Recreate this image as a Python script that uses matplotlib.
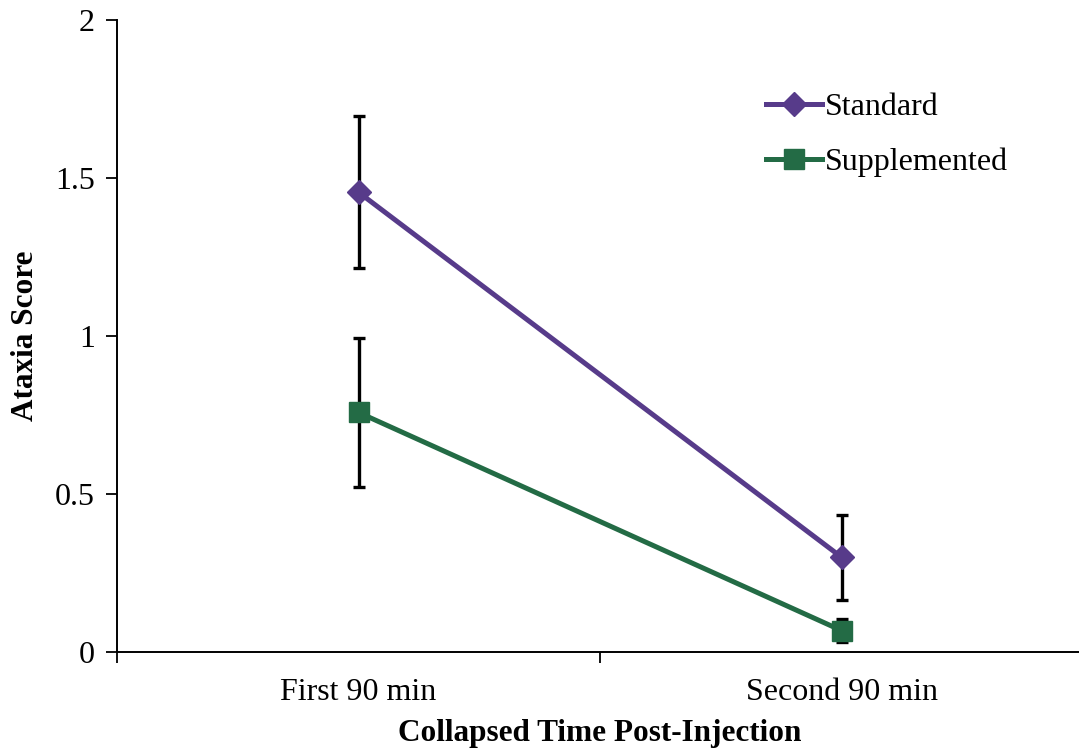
import matplotlib
matplotlib.use("Agg")
import matplotlib.pyplot as plt
import numpy as np

categories = ["First 90 min", "Second 90 min"]
standard = [1.455, 0.30]
standard_err = [0.24, 0.135]
supplemented = [0.758, 0.068]
supplemented_err = [0.235, 0.036]

plt.rcParams['font.family'] = ['Liberation Serif', 'DejaVu Serif']

W, H = 1079, 754
fig = plt.figure(figsize=(W/100, H/100), dpi=100)
ax = fig.add_axes([117/W, 102/H, 966/W, 632/H])

x = np.arange(len(categories))
purple = '#573b8a'
green = '#236b45'

ax.errorbar(x, standard, yerr=standard_err, fmt='none', ecolor='black',
            elinewidth=2.4, capsize=4.5, capthick=2.4, zorder=2)
ax.errorbar(x, supplemented, yerr=supplemented_err, fmt='none', ecolor='black',
            elinewidth=2.4, capsize=4.5, capthick=2.4, zorder=2)
ax.plot(x, standard, color=purple, lw=3.6, marker='D', markersize=12,
        label='Standard', zorder=3)
ax.plot(x, supplemented, color=green, lw=3.6, marker='s', markersize=14,
        label='Supplemented', zorder=3)

ax.set_xlim(-0.5, 1.5)
ax.set_ylim(0, 2)
ax.set_yticks([0, 0.5, 1, 1.5, 2])
ax.set_yticklabels(['0', '0.5', '1', '1.5', '2'])
ax.set_xticks(x)
ax.set_xticklabels(categories)
ax.set_xticks([-0.5, 0.5, 1.5], minor=True)
ax.tick_params(axis='x', which='major', length=0, pad=19, labelsize=23)
ax.tick_params(axis='x', which='minor', length=8, width=1.3, direction='out')
ax.tick_params(axis='y', length=8, width=1.3, direction='out', labelsize=23, pad=8)

for s in ['top', 'right']:
    ax.spines[s].set_visible(False)
for s in ['left', 'bottom']:
    ax.spines[s].set_linewidth(1.4)

fig.text(26/W, 1 - 336/H, 'Ataxia Score', fontsize=22.5, fontweight='bold',
         rotation=90, ha='center', va='center')
fig.text(600/W, 1 - 734/H, 'Collapsed Time Post-Injection', fontsize=22.5,
         fontweight='bold', ha='center', va='center')

ax.legend(loc='upper left', bbox_to_anchor=(0.672, 0.885), frameon=False,
          fontsize=23, handlelength=1.75, handletextpad=0.1, labelspacing=0.8,
          borderaxespad=0, borderpad=0)

fig.savefig('out.png', dpi=100)
